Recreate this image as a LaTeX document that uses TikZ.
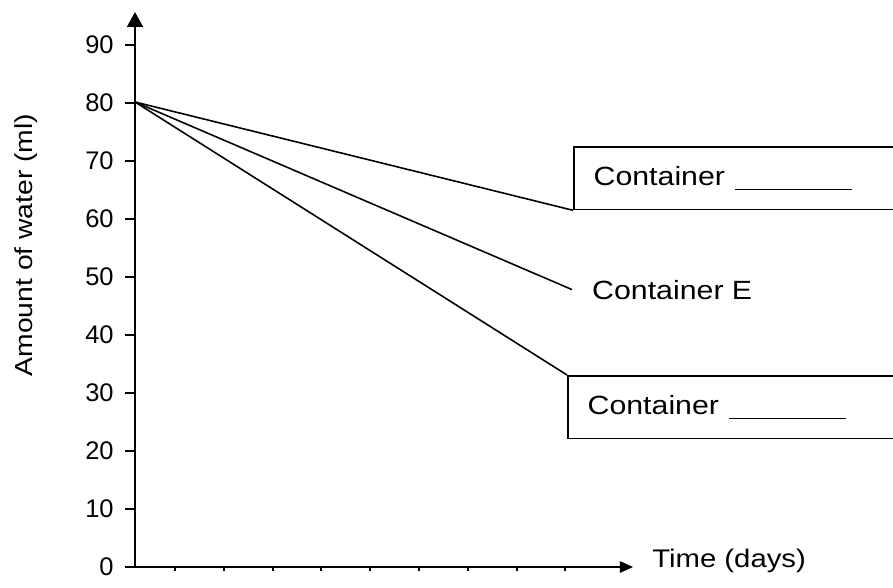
\documentclass[tikz,border=0pt]{standalone}
\usepackage{fontspec}
\setmainfont{Liberation Sans}
\usepackage{graphicx}
\usetikzlibrary{arrows.meta,positioning}

\newcommand\widetext[1]{\scalebox{1.15}[1]{#1}}
\newcommand\blankline{\rule[-2.8pt]{58pt}{0.8pt}}

\begin{document}
\begin{tikzpicture}[x=0.02cm, y=-0.02cm]
            \tikzset{
                axis/.style={line width=1.1pt},
                trend/.style={line width=0.9pt},
                answerbox/.style={draw, line width=0.9pt, anchor=north west, minimum height=35.7pt,
                    text width=200pt, inner xsep=11.3pt, inner ysep=0pt, font=\fontsize{15}{18}\selectfont},
                ticklabel/.style={anchor=east, inner sep=0pt, font=\fontsize{14.5}{17}\selectfont},
            }
            \useasboundingbox (0, 0) rectangle (893, 588);

            % Оси:
            \coordinate (origin) at (135, 567);
            \coordinate (y-end) at (135, 12);
            \coordinate (x-end) at (633, 567);
            \draw[axis, -{Triangle[length=8.5pt, width=9pt]}] (origin) -- (y-end);
            \draw[axis, -{Triangle[length=7.5pt, width=6.5pt]}] (125, 567) -- (x-end);

            \foreach \v in {0, 10, ..., 90} {
                \draw[axis] (125, {567 - 5.8*\v}) -- (135, {567 - 5.8*\v});
                \node[ticklabel] (tick-\v) at (114, {567 - 5.8*\v}) {\v};
            }
            \foreach \k in {0, ..., 8} {
                \draw[axis] ({175 + 48.8*\k}, 567) -- ({175 + 48.8*\k}, 571);
            }

            \node[rotate=90, anchor=base, inner sep=0pt, font=\fontsize{14}{17}\selectfont] (y-label) at (32, 245) {\widetext{Amount of water (ml)}};
            \node[anchor=base west, inner sep=0pt, font=\fontsize{14.5}{17}\selectfont] (x-label) at (652, 567) {\widetext{Time (days)}};

            % Подписи:
            \node[answerbox] (box-top) at (573, 146) {\widetext{Container \blankline}};
            \node[anchor=base west, inner xsep=11.3pt, inner ysep=0pt, font=\fontsize{15}{18}\selectfont] (cont-e) at (572, 299) {\widetext{Container E}};
            \node[answerbox] (box-bottom) at (567, 375) {\widetext{Container \blankline}};

            % Линии:
            \coordinate (start) at (135, 102);
            \draw[trend] (start) -- (box-top.south west);
            \draw[trend] (start) -- (cont-e.west);
            \draw[trend] (start) -- (box-bottom.north west);
        \end{tikzpicture}
\end{document}
